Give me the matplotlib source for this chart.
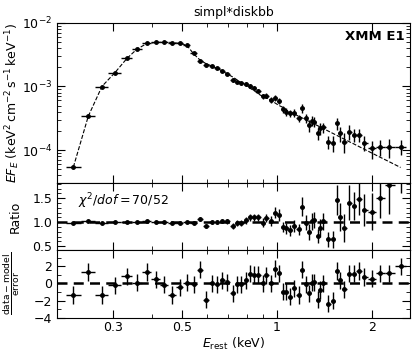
import numpy as np
import matplotlib
matplotlib.use('Agg')
import matplotlib.pyplot as plt
from matplotlib.ticker import FixedLocator, LogLocator, AutoMinorLocator, NullFormatter, FixedFormatter

# bin centres (keV)
energy = [0.225, 0.251, 0.2775, 0.305, 0.333, 0.358, 0.3845, 0.4107, 0.437, 0.4649,
          0.492, 0.516, 0.543, 0.5685, 0.5927, 0.619, 0.6455, 0.669, 0.694, 0.7234,
          0.747, 0.7705, 0.7978, 0.823, 0.8473, 0.8724, 0.9004, 0.925, 0.957, 0.9855,
          1.0146, 1.045, 1.070, 1.102, 1.134, 1.171, 1.203, 1.232, 1.266, 1.291,
          1.313, 1.345, 1.374, 1.405, 1.457, 1.504, 1.549, 1.587, 1.634, 1.698,
          1.754, 1.819, 1.895, 2.0, 2.125, 2.275, 2.471]

# unfolded spectrum E F_E
flux = [5.37e-5, 3.43e-4, 9.89e-4, 1.64e-3, 2.76e-3, 3.82e-3, 4.75e-3, 4.92e-3, 4.98e-3, 4.85e-3,
        4.75e-3, 4.47e-3, 3.31e-3, 2.50e-3, 2.17e-3, 2.11e-3, 1.92e-3, 1.76e-3, 1.57e-3, 1.26e-3,
        1.19e-3, 1.12e-3, 1.08e-3, 1.01e-3, 9.3e-4, 8.5e-4, 7.07e-4, 7.15e-4, 6.12e-4, 6.65e-4,
        5.97e-4, 4.37e-4, 4.01e-4, 3.78e-4, 3.86e-4, 3.15e-4, 4.53e-4, 3.15e-4, 2.48e-4, 2.89e-4,
        2.79e-4, 1.84e-4, 2.20e-4, 2.28e-4, 1.36e-4, 1.28e-4, 2.64e-4, 1.84e-4, 1.36e-4, 1.95e-4,
        1.73e-4, 1.73e-4, 1.31e-4, 1.07e-4, 1.13e-4, 1.13e-4, 1.13e-4]

# simpl*diskbb model
model = [5.4e-5, 3.4e-4, 1.0e-3, 1.64e-3, 2.74e-3, 3.82e-3, 4.68e-3, 4.88e-3, 4.95e-3, 4.88e-3,
         4.70e-3, 4.45e-3, 3.23e-3, 2.60e-3, 2.29e-3, 2.09e-3, 1.91e-3, 1.75e-3, 1.57e-3, 1.40e-3,
         1.26e-3, 1.13e-3, 1.03e-3, 9.27e-4, 8.5e-4, 7.6e-4, 6.94e-4, 6.58e-4, 6.01e-4, 5.49e-4,
         5.01e-4, 4.67e-4, 4.26e-4, 3.96e-4, 3.69e-4, 3.40e-4, 3.19e-4, 3.00e-4, 2.80e-4, 2.67e-4,
         2.56e-4, 2.42e-4, 2.29e-4, 2.17e-4, 1.98e-4, 1.83e-4, 1.70e-4, 1.60e-4, 1.49e-4, 1.35e-4,
         1.25e-4, 1.14e-4, 1.03e-4, 9.0e-5, 7.74e-5, 6.55e-5, 5.33e-5]

# data / model
ratio = [0.99, 1.03, 0.98, 1.0, 1.01, 1.0, 1.02, 1.01, 1.0, 0.99,
         0.99, 1.0, 0.99, 1.07, 0.92, 1.0, 1.0, 1.02, 1.02, 0.92,
         0.99, 0.99, 1.04, 1.10, 1.10, 1.10, 0.99, 1.09, 1.02, 1.20,
         1.15, 0.90, 0.87, 0.83, 0.92, 0.85, 1.32, 0.99, 0.80, 1.02,
         1.04, 0.71, 0.88, 1.02, 0.64, 0.64, 1.46, 1.11, 0.88, 1.41,
         1.34, 1.48, 1.25, 1.22, 1.50, 1.78, 2.2]

ratio_err = [0.015, 0.015, 0.015, 0.015, 0.015, 0.015, 0.015, 0.02, 0.02, 0.02,
             0.02, 0.025, 0.03, 0.04, 0.04, 0.04, 0.04, 0.045, 0.05, 0.07,
             0.06, 0.06, 0.07, 0.08, 0.08, 0.08, 0.09, 0.09, 0.1, 0.12,
             0.12, 0.11, 0.12, 0.11, 0.12, 0.11, 0.2, 0.16, 0.17, 0.18,
             0.17, 0.15, 0.18, 0.18, 0.15, 0.18, 0.32, 0.3, 0.3, 0.36,
             0.3, 0.33, 0.33, 0.39, 0.42, 0.6, 0.6]

# (data - model) / error
resid = [-1.34, 1.33, -1.34, -0.2, 0.83, 0.07, 1.33, 0.49, -0.16, -1.34,
         -0.46, 0.07, -0.1, 1.6, -1.9, 0.0, -0.1, 0.38, 0.15, -1.14,
         -0.1, -0.1, 0.38, 1.14, 1.03, 1.03, 0.0, 0.95, 0.0, 1.7,
         1.2, -0.95, -0.95, -1.52, -0.57, -1.33, 1.6, -0.1, -1.14, 0.1,
         0.15, -1.9, -0.76, 0.0, -2.37, -1.99, 1.44, 0.38, -0.68, 1.14,
         1.14, 1.44, 0.76, 0.57, 1.2, 1.2, 1.98]

E = np.array(energy)
flux = np.array(flux)
ratio = np.array(ratio)
ratio_err = np.array(ratio_err)

# bin edges halfway (in log) between centres
mid = np.sqrt(E[:-1] * E[1:])
lo = np.concatenate([[E[0] ** 2 / mid[0]], mid])
hi = np.concatenate([mid, [E[-1] ** 2 / mid[-1]]])
xerr = [E - lo, hi - E]
flux_err = flux * ratio_err / ratio

plt.rcParams['font.family'] = 'DejaVu Sans'
plt.rcParams['font.size'] = 9
plt.rcParams['mathtext.fontset'] = 'dejavusans'

fig = plt.figure(figsize=(4.15, 3.54), dpi=100)
L, W = 0.138, 0.849
ax1 = fig.add_axes([L, 0.482, W, 0.454])
ax2 = fig.add_axes([L, 0.294, W, 0.188], sharex=ax1)
ax3 = fig.add_axes([L, 0.102, W, 0.192], sharex=ax1)

eb = dict(fmt='o', color='k', ms=2.5, elinewidth=1.0, capsize=0)

ax1.errorbar(E, flux, xerr=xerr, yerr=flux_err, **eb)
ax1.plot(E, model, 'k--', lw=0.8)
ax1.set_yscale('log')
ax1.set_ylim(3e-5, 1e-2)
ax1.set_ylabel(r'$EF_E$ (keV$^2\,$cm$^{-2}\,$s$^{-1}\,$keV$^{-1}$)')
ax1.text(0.985, 0.955, 'XMM E1', transform=ax1.transAxes, ha='right', va='top',
         fontweight='bold', fontsize=9.5)
ax1.set_title('simpl*diskbb', fontsize=9, pad=5)

ax2.errorbar(E, ratio, xerr=xerr, yerr=ratio_err, **eb)
ax2.axhline(1.0, color='k', ls='--', lw=1.8, dashes=(4, 2.5))
ax2.set_ylim(0.42, 1.81)
ax2.set_ylabel('Ratio')
ax2.set_yticks([0.5, 1.0, 1.5])
ax2.yaxis.set_minor_locator(AutoMinorLocator(5))
ax2.text(0.06, 0.88, r'$\chi^2/dof = 70/52$', transform=ax2.transAxes, va='top', fontsize=9)

ax3.errorbar(E, resid, xerr=xerr, yerr=np.ones(len(resid)), **eb)
ax3.axhline(0.0, color='k', ls='--', lw=1.8, dashes=(4, 2.5))
ax3.set_ylim(-4, 3.9)
ax3.set_yticks([-4, -2, 0, 2])
ax3.yaxis.set_minor_locator(AutoMinorLocator(2))
ax3.set_ylabel(r'$\frac{\rm data-model}{\rm error}$', fontsize=9.5)
ax3.set_xlabel(r'$E_{\rm rest}$ (keV)', labelpad=1)

ax1.set_xscale('log')
ax1.set_xlim(0.2, 2.64)
for ax in (ax1, ax2, ax3):
    ax.xaxis.set_major_locator(FixedLocator([0.3, 0.5, 1, 2]))
    ax.xaxis.set_minor_locator(LogLocator(base=10, subs=np.arange(1, 10) * 1.0))
    ax.tick_params(which='both', direction='in', top=True, right=True)
    ax.tick_params(which='major', length=6)
    ax.tick_params(which='minor', length=3)
    ax.yaxis.set_label_coords(-0.1, 0.5)
ax3.tick_params(axis='x', pad=2.5)
ax3.xaxis.set_major_formatter(FixedFormatter(['0.3', '0.5', '1', '2']))
ax3.xaxis.set_minor_formatter(NullFormatter())
plt.setp(ax1.get_xticklabels(), visible=False)
plt.setp(ax2.get_xticklabels(), visible=False)

fig.savefig('out.png', dpi=100)
